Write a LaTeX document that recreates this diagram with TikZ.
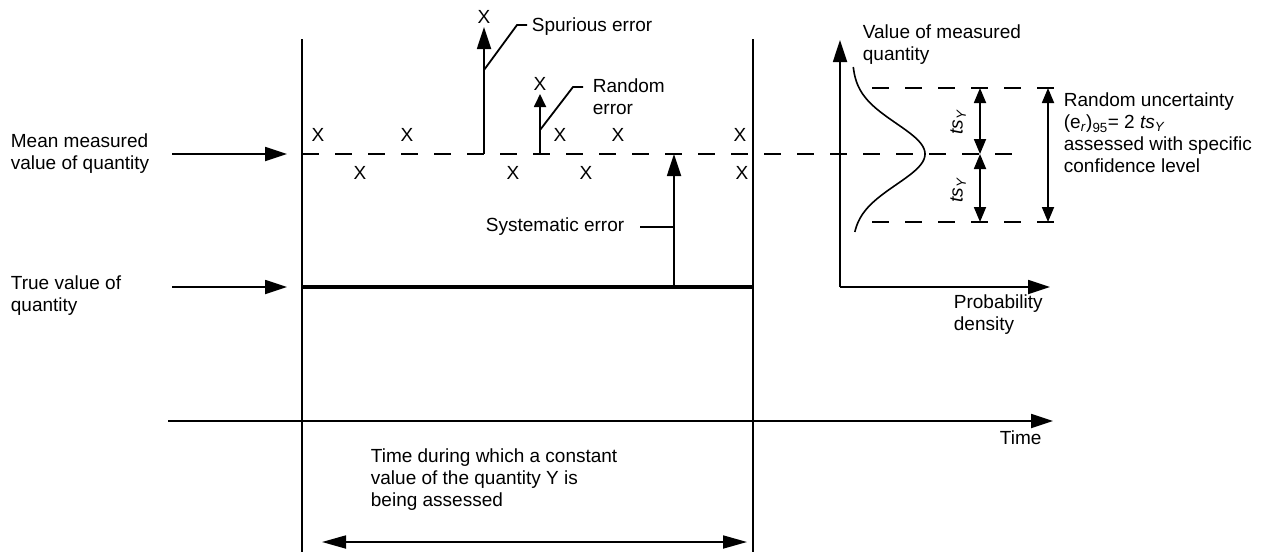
\documentclass[tikz,border=0pt]{standalone}
\usepackage{fontspec}
\setmainfont{Liberation Sans}
\usetikzlibrary{arrows.meta}
\begin{document}
\begin{tikzpicture}[x=1pt,y=-1pt,line width=1.8pt,
  lbl/.style={font=\fontsize{19}{22}\selectfont, inner sep=0pt, align=left, anchor=west},
  xmark/.style={font=\fontsize{19}{22}\selectfont, inner sep=0pt},
  bigarr/.style={-{Triangle[length=22pt,width=14pt]}},
  smallarr/.style={-{Triangle[length=13pt,width=12pt]}},
  dblarr/.style={{Triangle[length=15pt,width=12pt]}-{Triangle[length=15pt,width=12pt]}},
  longdbl/.style={{Triangle[length=24pt,width=13pt]}-{Triangle[length=24pt,width=13pt]}},
  dashln/.style={dash pattern=on 17pt off 16pt},
  thickln/.style={line width=4pt}]
\useasboundingbox (0,0) rectangle (1268,552);

% frame lines
\coordinate (LT) at (302,39); \coordinate (LB) at (302,552);
\coordinate (RT) at (753,39); \coordinate (RB) at (753,552);
\draw (LT) -- (LB);
\draw (RT) -- (RB);

% mean line and true line
\coordinate (M0) at (302,154); \coordinate (M1) at (1023,154);
\draw[dashln] (M0) -- (M1);
\coordinate (T0) at (302,287); \coordinate (T1) at (753,287);
\draw[thickln] (T0) -- (T1);

% left labels and arrows
\node[lbl] (meanlbl) at (10,154) {Mean measured\\value of quantity};
\node[lbl] (truelbl) at (10,296) {True value of\\quantity};
\coordinate (ma0) at (172,154); \coordinate (ma1) at (287,154);
\coordinate (ta0) at (172,287); \coordinate (ta1) at (287,287);
\draw[bigarr] (ma0) -- (ma1);
\draw[bigarr] (ta0) -- (ta1);

% time axis
\coordinate (tx0) at (168,421); \coordinate (tx1) at (1053,421);
\draw[bigarr] (tx0) -- (tx1);
\node[lbl] (timelbl) at (999,438) {Time};

% bottom
\node[lbl] (durlbl) at (370,480) {Time during which a constant\\value of the quantity Y is\\being assessed};
\coordinate (ba0) at (322,542); \coordinate (ba1) at (747,542);
\draw[longdbl] (ba0) -- (ba1);

% X markers
\node[xmark] (x1) at (318,135) {X};
\node[xmark] (x2) at (407,135) {X};
\node[xmark] (x3) at (360,173) {X};
\node[xmark] (x4) at (513,173) {X};
\node[xmark] (x5) at (560,135) {X};
\node[xmark] (x6) at (618,135) {X};
\node[xmark] (x7) at (586,173) {X};
\node[xmark] (x8) at (740,135) {X};
\node[xmark] (x9) at (742,173) {X};

% spurious error
\coordinate (sp0) at (484,154); \coordinate (sp1) at (484,27);
\draw[bigarr] (sp0) -- (sp1);
\node[xmark] (xsp) at (484,17) {X};
\node[lbl] (splbl) at (531,27) {Spurious error};
\coordinate (spa) at (484,70); \coordinate (spb) at (517,25);
\draw (spa) -- (spb) -- ([xshift=-4pt]splbl.west |- spb);

% random error
\coordinate (rd0) at (540,154); \coordinate (rd1) at (540,94);
\draw[smallarr] (rd0) -- (rd1);
\node[xmark] (xrd) at (540,84) {X};
\node[lbl] (rdlbl) at (592,97) {Random\\error};
\coordinate (rda) at (540,130); \coordinate (rdb) at (573,87);
\coordinate (rdc) at (583,87);
\draw (rda) -- (rdb) -- (rdc);

% systematic error
\coordinate (sy0) at (674,287); \coordinate (sy1) at (674,154);
\draw[bigarr] (sy0) -- (sy1);
\node[lbl] (sylbl) at (485,227) {Systematic error};
\coordinate (syl0) at (640,227); \coordinate (syl1) at (674,227);
\draw (syl0) -- (syl1);

% distribution
\coordinate (ax0) at (840,287); \coordinate (ax1) at (840,40); \coordinate (ax2) at (1050,287);
\draw[bigarr] (ax0) -- (ax1);
\draw[bigarr] (ax0) -- (ax2);
\node[lbl] (vallbl) at (862,45) {Value of measured\\quantity};
\node[lbl] (problbl) at (953,315) {Probability\\density};
\draw[line width=1.6pt] plot[domain=67:232, samples=90, variable=\t, smooth]
  ({852+73*exp(-((\t-154)^2)/1872.7)},{\t});

\coordinate (dt0) at (872,88); \coordinate (dt1) at (1055,88);
\coordinate (db0) at (872,222); \coordinate (db1) at (1055,222);
\draw[dashln] (dt0) -- (dt1);
\draw[dashln] (db0) -- (db1);

\coordinate (ts0) at (980,88); \coordinate (ts1) at (980,154); \coordinate (ts2) at (980,222);
\draw[dblarr] (ts0) -- (ts1);
\draw[dblarr] (ts1) -- (ts2);
\node[xmark, rotate=90] (tsa) at (958,122) {\textit{ts}\textsubscript{\textit{Y}}};
\node[xmark, rotate=90] (tsb) at (958,190) {\textit{ts}\textsubscript{\textit{Y}}};

\coordinate (ru0) at (1048,88); \coordinate (ru1) at (1048,222);
\draw[dblarr] (ru0) -- (ru1);
\node[lbl] (rulbl) at (1063,133) {Random uncertainty\\(e\textsubscript{\textit{r}})\textsubscript{95}= 2 \textit{ts}\textsubscript{\textit{Y}}\\assessed with specific\\confidence level};
\end{tikzpicture}
\end{document}
